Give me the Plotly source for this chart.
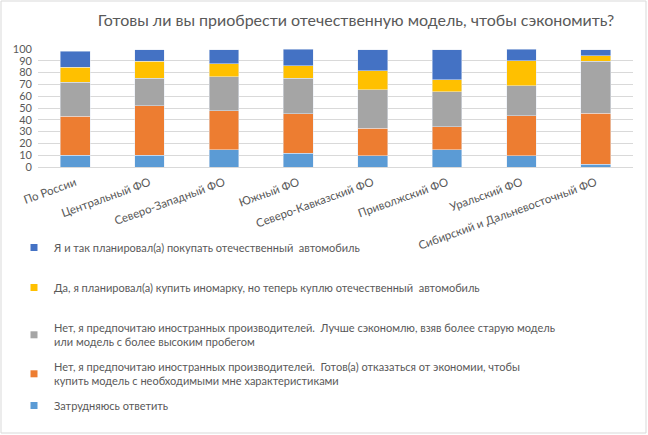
import plotly.graph_objects as go

title = "Готовы ли вы приобрести отечественную модель, чтобы сэкономить?"
regions = ["По России", "Центральный ФО", "Северо-Западный ФО", "Южный ФО",
           "Северо-Кавказский ФО", "Приволжский ФО", "Уральский ФО",
           "Сибирский и Дальневосточный ФО"]

hard_to_say = [10, 10, 14.7, 11.6, 9.6, 14.7, 9.6, 2.5]
no_features = [33.2, 42, 33, 33.6, 23.2, 19.5, 33.9, 43]
no_older = [28.8, 23.4, 28.6, 30.2, 32.5, 29.4, 25.4, 44]
yes_switch = [12.7, 14.4, 11.3, 10.5, 16.3, 10.4, 21.2, 4.9]
already = [13.6, 9.6, 11.8, 14.1, 17.8, 25.4, 9.9, 5]

names = [
    "Затрудняюсь ответить",
    "Нет, я предпочитаю иностранных производителей.  Готов(а) отказаться от экономии, чтобы<br>купить модель с необходимыми мне характеристиками",
    "Нет, я предпочитаю иностранных производителей.  Лучше сэкономлю, взяв более старую модель<br>или модель с более высоким пробегом",
    "Да, я планировал(а) купить иномарку, но теперь куплю отечественный  автомобиль",
    "Я и так планировал(а) покупать отечественный  автомобиль",
]
series = [hard_to_say, no_features, no_older, yes_switch, already]
colors = ["#5B9BD5", "#ED7D31", "#A5A5A5", "#FFC000", "#4472C4"]
legend_ids = ["legend5", "legend4", "legend3", "legend2", "legend"]
legend_top_px = [391, 353, 314, 273, 233]

FONT = "Lato"
TXT = "#595959"

fig = go.Figure()
for vals, name, col, lg in zip(series, names, colors, legend_ids):
    fig.add_trace(go.Bar(x=regions, y=vals, name=name, marker_color=col,
                         showlegend=False, hoverinfo="y"))
    fig.add_trace(go.Scatter(x=[None], y=[None], mode="markers", name=name,
                             marker=dict(symbol="square", size=7, color=col),
                             legend=lg, showlegend=True))

# plot area in pixels
L, R, T, B = 38, 15, 49, 268
W, H = 648, 435
ph = H - T - B

def py(px):
    return (H - B - px) / ph

layout_legends = {}
for lg, top in zip(legend_ids, legend_top_px):
    layout_legends[lg] = dict(
        x=(14 - L) / (W - L - R), xanchor="left", y=py(top), yanchor="top",
        font=dict(family=FONT, size=11, color=TXT), bgcolor="rgba(0,0,0,0)",
        itemwidth=30, tracegroupgap=0,
    )

fig.update_layout(
    width=W, height=H,
    margin=dict(l=L, r=R, t=T, b=B, autoexpand=False),
    paper_bgcolor="white", plot_bgcolor="white",
    barmode="stack", bargap=0.6,
    title=dict(text=title, x=356 / W, xanchor="center", y=1 - 20 / H, yanchor="middle",
               font=dict(family=FONT, size=16, color=TXT)),
    xaxis=dict(tickangle=-20, tickfont=dict(family=FONT, size=11.5, color=TXT),
               showgrid=False, showline=False, ticks="", ticklabelstandoff=6),
    yaxis=dict(range=[0, 100], dtick=10, tickfont=dict(family=FONT, size=11, color=TXT),
               showgrid=True, gridcolor="#D9D9D9", gridwidth=1, zeroline=True,
               zerolinecolor="#D9D9D9", zerolinewidth=1, ticks="", ticklabelstandoff=5),
    shapes=[dict(type="rect", xref="paper", yref="paper",
                 x0=(1 - L) / (W - L - R), x1=(W - 2 - L) / (W - L - R),
                 y0=py(H - 2), y1=py(1),
                 line=dict(color="#D9D9D9", width=1), fillcolor="rgba(0,0,0,0)")],
    **layout_legends,
)

fig.write_html("out.html")
